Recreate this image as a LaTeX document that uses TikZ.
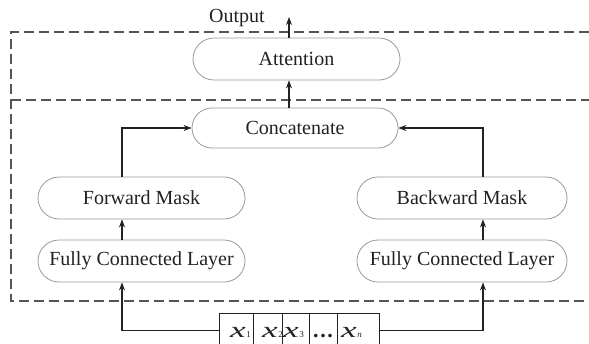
\documentclass[tikz,border=0pt]{standalone}
\usepackage{fontspec}
\setmainfont{Liberation Serif}
\usetikzlibrary{shapes.misc,arrows.meta}
\definecolor{ink}{HTML}{222222}
\definecolor{rim}{HTML}{9A9A9A}
\definecolor{dash}{HTML}{555555}
\tikzset{
  block/.style={rounded rectangle, draw=rim, line width=0.8pt, fill=white,
    text=ink, inner sep=0pt, minimum height=42pt,
    font=\fontsize{20}{20}\selectfont},
  cell/.style={rectangle, draw=ink, line width=1pt, inner sep=0pt,
    minimum height=34pt, anchor=north west},
  sym/.style={inner sep=0pt, anchor=base west, text=ink},
  arr/.style={draw=ink, line width=1.1pt, -{Stealth[length=8pt,width=6pt]}},
  wire/.style={draw=ink, line width=1.1pt},
  frame/.style={draw=dash, line width=1.5pt, dash pattern=on 10pt off 5pt}
}
\newcommand{\xs}[1]{\scalebox{1.6}[1]{\fontsize{22}{22}\selectfont\itshape x}\kern0.5pt{\fontsize{9}{9}\selectfont #1}}
\begin{document}
\begin{tikzpicture}[x=1pt,y=-1pt]
\clip (0,0) rectangle (589,343);
\fill[white] (0,0) rectangle (589,343);

% dashed frame split into the attention part and the encoder part
\draw[frame] (589,32) -- (11,32) -- (11,301) -- (589,301);
\draw[frame] (11,100) -- (589,100);

% vertical guide positions of the connectors
\coordinate (ax) at (289,0);
\coordinate (lx) at (122,0);
\coordinate (rx) at (483,0);
\coordinate (out) at (289,17);

% blocks
\node[block, minimum width=207pt] (att) at (296.5,59) {Attention};
\node[block, minimum width=206pt, minimum height=40pt] (cat) at (295,128) {Concatenate};
\node[block, minimum width=207pt] (fm) at (141.5,198) {Forward Mask};
\node[block, minimum width=207pt] (fcl) at (141.5,261) {Fully Connected Layer};
\node[block, minimum width=210pt] (bm) at (462,198) {Backward Mask};
\node[block, minimum width=210pt] (fcr) at (462,261) {Fully Connected Layer};

\node[sym, font=\fontsize{20}{20}\selectfont] (outlbl) at (209,22) {Output};

% input sequence
\node[cell, minimum width=34pt] (c1) at (219,313) {};
\node[cell, minimum width=29pt] (c2) at (253,313) {};
\node[cell, minimum width=27pt] (c3) at (282,313) {};
\node[cell, minimum width=28pt] (c4) at (309,313) {};
\node[cell, minimum width=42pt] (c5) at (337,313) {};
\node[sym] (t1) at (230,337) {\xs{1}};
\node[sym] (t2) at (262,337) {\xs{2}};
\node[sym] (t3) at (283,337) {\xs{3}};
\node[sym] (t4) at (313,337) {\fontsize{22}{22}\selectfont\bfseries .\kern1.6pt.\kern1.6pt.};
\node[sym] (t5) at (341,337) {\xs{\itshape n}};

% connectors
\draw[arr] (c1.west) -| (fcl.south -| lx);
\draw[arr] (c5.east) -| (fcr.south -| rx);
\draw[arr] (fcl.north -| lx) -- (fm.south -| lx);
\draw[arr] (fcr.north -| rx) -- (bm.south -| rx);
\draw[arr] (fm.north -| lx) |- (cat.west);
\draw[arr] (bm.north -| rx) |- (cat.east);
\draw[arr] (cat.north -| ax) -- (att.south -| ax);
\draw[arr] (att.north -| ax) -- (out);
\end{tikzpicture}
\end{document}
